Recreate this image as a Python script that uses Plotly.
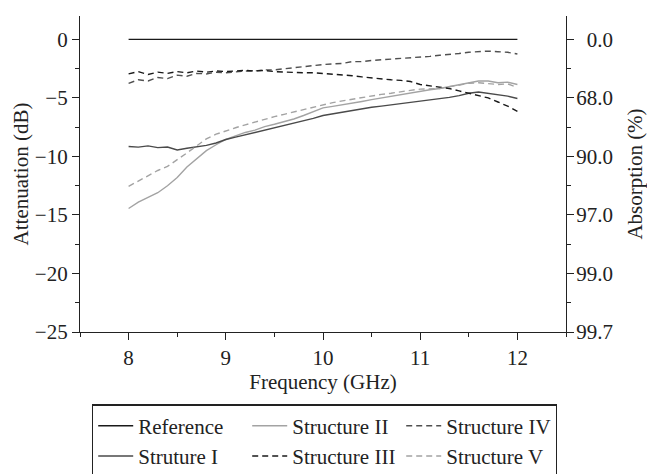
import plotly.graph_objects as go

freq = [8.0, 8.1, 8.2, 8.3, 8.4, 8.5, 8.6, 8.7, 8.8, 8.9,
        9.0, 9.1, 9.2, 9.3, 9.4, 9.5, 9.6, 9.7, 9.8, 9.9,
        10.0, 10.1, 10.2, 10.3, 10.4, 10.5, 10.6, 10.7, 10.8, 10.9,
        11.0, 11.1, 11.2, 11.3, 11.4, 11.5, 11.6, 11.7, 11.8, 11.9, 12.0]

reference = [0.0] * 41

structure_1 = [-9.15, -9.2, -9.1, -9.25, -9.2, -9.45, -9.3, -9.2, -9.05, -8.85,
               -8.55, -8.35, -8.15, -7.95, -7.8, -7.6, -7.4, -7.2, -7.0, -6.75,
               -6.5, -6.35, -6.2, -6.1, -5.95, -5.8, -5.7, -5.6, -5.5, -5.35,
               -5.3, -5.2, -5.05, -4.95, -4.8, -4.6, -4.5, -4.6, -4.75, -4.85, -5.05]

structure_2 = [-14.45, -13.9, -13.5, -13.1, -12.5, -11.8, -10.9, -10.2, -9.5, -9.0,
               -8.55, -8.25, -7.95, -7.75, -7.45, -7.25, -7.05, -6.8, -6.5, -6.15,
               -5.85, -5.72, -5.6, -5.45, -5.3, -5.15, -5.0, -4.85, -4.7, -4.55,
               -4.4, -4.3, -4.2, -4.05, -3.9, -3.7, -3.55, -3.55, -3.7, -3.65, -3.85]

structure_3 = [-2.95, -2.75, -3.0, -2.8, -2.9, -2.75, -2.85, -2.7, -2.8, -2.7,
               -2.75, -2.7, -2.65, -2.7, -2.65, -2.75, -2.8, -2.8, -2.85, -2.85,
               -2.9, -2.95, -3.0, -3.1, -3.2, -3.3, -3.35, -3.45, -3.5, -3.6,
               -3.85, -3.95, -4.1, -4.2, -4.4, -4.6, -4.8, -5.0, -5.35, -5.7, -6.15]

structure_4 = [-3.75, -3.45, -3.55, -3.25, -3.35, -3.05, -3.15, -2.9, -2.95, -2.8,
               -2.85, -2.75, -2.7, -2.7, -2.6, -2.6, -2.5, -2.45, -2.35, -2.25,
               -2.15, -2.1, -2.05, -1.9, -1.9, -1.8, -1.75, -1.7, -1.6, -1.55,
               -1.5, -1.45, -1.35, -1.3, -1.2, -1.1, -1.05, -1.0, -1.05, -1.1, -1.25]

structure_5 = [-12.55, -12.1, -11.6, -11.2, -10.85, -10.3, -9.7, -9.1, -8.5, -8.1,
               -7.8, -7.55, -7.3, -7.05, -6.8, -6.6, -6.4, -6.2, -6.0, -5.8,
               -5.55, -5.4, -5.25, -5.1, -4.95, -4.85, -4.7, -4.6, -4.45, -4.35,
               -4.25, -4.25, -4.2, -4.05, -3.9, -3.75, -3.7, -3.75, -3.85, -3.8, -4.1]

left_ticks = [0, -5, -10, -15, -20, -25]
# right-aligned absorption labels (figure space pads the shorter one)
right_tick_text = ["\u20070.0", "68.0", "90.0", "97.0", "99.0", "99.7"]

FONT = "Liberation Serif"
DASH = "6px,4px"

series = [
    ("Reference", reference, "#1a1a1a", "solid", 1),
    ("Structure II", structure_2, "#a3a3a3", "solid", 2),
    ("Structure IV", structure_4, "#505050", DASH, 3),
    ("Struture I", structure_1, "#4a4a4a", "solid", 4),
    ("Structure III", structure_3, "#1a1a1a", DASH, 5),
    ("Structure V", structure_5, "#a3a3a3", DASH, 6),
]

fig = go.Figure()
for name, vals, color, dash, rank in series:
    fig.add_trace(go.Scatter(
        x=freq, y=vals, name=name, mode="lines", legendrank=rank,
        line=dict(color=color, width=1.4, dash=dash),
    ))

# invisible trace to anchor the right-hand absorption axis
fig.add_trace(go.Scatter(x=freq, y=reference, yaxis="y2", mode="none",
                         showlegend=False, hoverinfo="skip"))

axis_common = dict(
    showline=True, linecolor="#222", linewidth=1.2,
    ticks="outside", ticklen=7, tickwidth=1.2, tickcolor="#222",
    showgrid=False, zeroline=False,
    tickfont=dict(family=FONT, size=21, color="#222"),
)
minor_common = dict(ticks="outside", ticklen=4, tickwidth=1.2, tickcolor="#222")

fig.update_layout(
    width=647, height=474,
    margin=dict(l=80, r=81, t=16, b=142, autoexpand=False),
    paper_bgcolor="white", plot_bgcolor="white",
    font=dict(family=FONT, size=21, color="#222"),
    showlegend=True,
    xaxis=dict(
        range=[7.5, 12.5], tick0=8, dtick=1,
        minor=dict(dtick=0.5, tick0=7.5, **minor_common),
        title=dict(text="Frequency (GHz)", font=dict(family=FONT, size=21, color="#222"), standoff=0),
        **axis_common,
    ),
    yaxis=dict(
        range=[-25, 2], tickvals=left_ticks,
        minor=dict(dtick=2.5, tick0=0, **minor_common),
        title=dict(text="Attenuation (dB)", font=dict(family=FONT, size=21, color="#222"), standoff=0),
        **axis_common,
    ),
    yaxis2=dict(
        range=[-25, 2], overlaying="y", side="right",
        tickvals=left_ticks, ticktext=right_tick_text, ticklabelstandoff=-2,
        minor=dict(dtick=2.5, tick0=0, **minor_common),
        title=dict(text="Absorption (%)", font=dict(family=FONT, size=21, color="#222"), standoff=18),
        **axis_common,
    ),
    legend=dict(
        orientation="h", x=0.0247, y=-0.229, xanchor="left", yanchor="top",
        bordercolor="#222", borderwidth=1.2, bgcolor="white",
        font=dict(family=FONT, size=21, color="#222"),
        entrywidth=104, entrywidthmode="pixels", itemwidth=35,
        tracegroupgap=0,
    ),
)

fig.write_html(
    "out.html",
    config={"displayModeBar": False},
    post_script="document.body.style.margin='0';document.body.style.overflow='hidden';",
)
